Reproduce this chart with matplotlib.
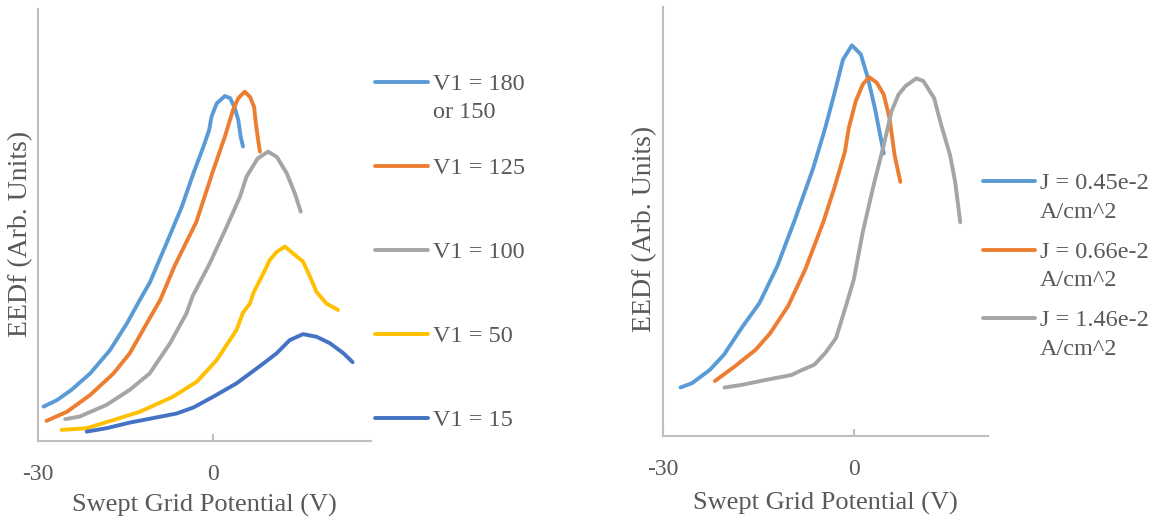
import matplotlib.pyplot as plt
from matplotlib.lines import Line2D

plt.rcParams['font.family'] = ['Liberation Serif', 'DejaVu Serif']
plt.rcParams['axes.unicode_minus'] = False

# left panel: EEDF for different V1 settings
v180_x = [-29.1, -26.8, -24.3, -21.1, -17.7, -14.8, -12.6, -10.9, -8.0, -5.4, -3.4, -1.7, -0.7, -0.3, 0.6, 2.0, 2.9, 3.7, 4.3, 4.7, 5.1]
v180_y = [0.079, 0.094, 0.118, 0.156, 0.210, 0.272, 0.326, 0.366, 0.458, 0.542, 0.620, 0.681, 0.720, 0.751, 0.782, 0.799, 0.794, 0.771, 0.743, 0.705, 0.682]

v125_x = [-28.6, -25.1, -21.1, -17.1, -14.3, -11.4, -9.1, -6.6, -2.9, 0.0, 2.0, 3.4, 4.3, 5.4, 6.3, 7.0, 7.3, 7.7, 8.0]
v125_y = [0.046, 0.067, 0.106, 0.156, 0.203, 0.272, 0.326, 0.406, 0.507, 0.627, 0.705, 0.767, 0.794, 0.809, 0.797, 0.774, 0.736, 0.697, 0.670]

v100_x = [-25.4, -22.9, -18.3, -14.3, -10.9, -7.4, -4.6, -3.5, -0.6, 2.3, 4.6, 5.7, 7.6, 9.4, 10.9, 12.6, 14.0, 15.0]
v100_y = [0.050, 0.056, 0.083, 0.118, 0.156, 0.226, 0.295, 0.336, 0.411, 0.496, 0.566, 0.612, 0.654, 0.670, 0.658, 0.620, 0.573, 0.531]

v50_x = [-26.0, -21.7, -17.1, -12.6, -6.9, -2.8, 0.6, 4.0, 5.1, 6.3, 6.9, 8.6, 9.7, 10.9, 12.3, 13.7, 15.4, 16.6, 17.7, 19.4, 21.4]
v50_y = [0.025, 0.029, 0.048, 0.067, 0.102, 0.137, 0.187, 0.257, 0.297, 0.318, 0.343, 0.388, 0.419, 0.438, 0.450, 0.434, 0.415, 0.380, 0.345, 0.318, 0.303]

v15_x = [-21.7, -18.3, -14.3, -9.7, -6.3, -3.4, 0.0, 4.0, 8.6, 10.9, 13.1, 15.4, 17.7, 20.0, 22.3, 23.9]
v15_y = [0.021, 0.029, 0.042, 0.054, 0.063, 0.077, 0.102, 0.133, 0.179, 0.203, 0.233, 0.247, 0.241, 0.226, 0.203, 0.182]

# right panel: EEDF for different current densities
j045_x = [-27.3, -25.5, -22.7, -20.5, -17.7, -14.9, -12.1, -9.3, -6.5, -4.6, -3.2, -1.8, -0.4, 1.0, 2.1, 3.2, 4.6]
j045_y = [0.113, 0.123, 0.154, 0.189, 0.252, 0.310, 0.396, 0.506, 0.623, 0.717, 0.795, 0.877, 0.910, 0.889, 0.834, 0.764, 0.658]

j066_x = [-21.9, -18.8, -15.5, -13.2, -10.4, -7.7, -4.9, -3.2, -1.5, -0.9, 0.2, 1.3, 2.3, 3.5, 4.6, 5.5, 6.3, 7.2]
j066_y = [0.128, 0.162, 0.201, 0.240, 0.303, 0.389, 0.498, 0.576, 0.662, 0.717, 0.780, 0.819, 0.836, 0.823, 0.795, 0.740, 0.654, 0.592]

j146_x = [-20.4, -17.7, -13.8, -9.9, -8.2, -6.3, -4.6, -2.9, -1.5, -0.1, 1.3, 3.0, 4.6, 5.8, 6.9, 8.0, 9.7, 10.8, 12.5, 13.6, 15.0, 15.8, 16.6]
j146_y = [0.113, 0.119, 0.131, 0.142, 0.154, 0.166, 0.193, 0.228, 0.295, 0.365, 0.475, 0.584, 0.678, 0.756, 0.795, 0.815, 0.833, 0.827, 0.787, 0.725, 0.654, 0.592, 0.498]

left_labels = ['V1 = 180\nor 150', 'V1 = 125', 'V1 = 100', 'V1 = 50', 'V1 = 15']
right_labels = ['J = 0.45e-2\nA/cm^2', 'J = 0.66e-2\nA/cm^2', 'J = 1.46e-2\nA/cm^2']

left_colors = ['#5B9BD5', '#ED7D31', '#A5A5A5', '#FFC000', '#4472C4']
right_colors = ['#5B9BD5', '#ED7D31', '#A5A5A5']

text_color = '#595959'
axis_color = '#BFBFBF'
W, H = 1156, 527
LW = 2.8

fig = plt.figure(figsize=(W / 100, H / 100), dpi=100)
ax1 = fig.add_axes([38.3 / W, 1 - 440.7 / H, 332.4 / W, 431.4 / H])
ax2 = fig.add_axes([663.3 / W, 1 - 436 / H, 325 / W, 429.3 / H])


def style(ax, xmax):
    ax.set_xlim(-30, xmax)
    ax.set_ylim(0, 1)
    ax.set_xticks([-30, 0])
    ax.set_yticks([])
    for s in ['top', 'right']:
        ax.spines[s].set_visible(False)
    for s in ['left', 'bottom']:
        ax.spines[s].set_color(axis_color)
        ax.spines[s].set_linewidth(1.5)
    ax.tick_params(axis='x', direction='in', length=5, width=1.5, color=axis_color,
                   labelsize=17, labelcolor=text_color, pad=16.5)
    ax.set_xlabel('Swept Grid Potential (V)', fontsize=19, color=text_color, va='center')
    ax.set_ylabel('EEDf (Arb. Units)', fontsize=20, color=text_color)
    ax.patch.set_alpha(0)


def legend(entries, x0, y0, dy, key_len, gap):
    # key line level with the first text row, extra rows stacked below
    for i, (lab, col) in enumerate(entries):
        y = y0 + i * dy
        fig.add_artist(Line2D([x0 / W, (x0 + key_len) / W], [1 - y / H, 1 - y / H],
                              color=col, lw=LW, solid_capstyle='round'))
        for k, row in enumerate(lab.split('\n')):
            fig.text((x0 + key_len + gap) / W, 1 - (y + 8 + k * 28.5) / H, row,
                     fontsize=17.5, color=text_color, va='baseline', ha='left')


left_series = [(v180_x, v180_y), (v125_x, v125_y), (v100_x, v100_y), (v50_x, v50_y), (v15_x, v15_y)]
for (x, y), c in zip(left_series, left_colors):
    ax1.plot(x, y, color=c, lw=LW, solid_capstyle='round', solid_joinstyle='round')

right_series = [(j045_x, j045_y), (j066_x, j066_y), (j146_x, j146_y)]
for (x, y), c in zip(right_series, right_colors):
    ax2.plot(x, y, color=c, lw=LW, solid_capstyle='round', solid_joinstyle='round')

style(ax1, 27)
style(ax2, 21)
ax1.xaxis.set_label_coords(0.5, -0.149)
ax1.yaxis.set_label_coords(-0.016, 0.479)
ax2.xaxis.set_label_coords(0.5, -0.156)
ax2.yaxis.set_label_coords(-0.020, 0.482)

legend(list(zip(left_labels, left_colors)), 375, 81.7, 84, 53.3, 5)
legend(list(zip(right_labels, right_colors)), 982.7, 181, 68.7, 52.3, 5)

fig.savefig('out.png', dpi=100)
